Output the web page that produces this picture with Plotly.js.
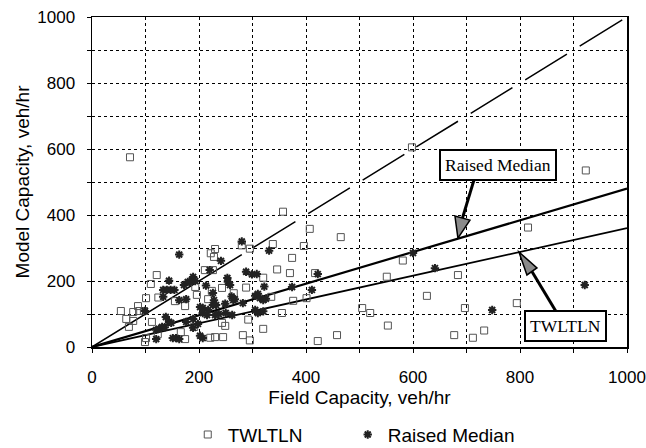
<!DOCTYPE html>
<html><head><meta charset="utf-8">
<script src="https://cdn.plot.ly/plotly-3.0.1.min.js"></script>
<style>html,body{margin:0;padding:0;background:#fff}</style>
</head><body><div id="chart" style="width:646px;height:448px"></div>
<script>
// TWLTLN observations (field capacity, model capacity)
const twltlnX = [71,598,923,815,357,407,465,396,338,280,295,230,222,228,374,346,370,417,320,211,226,288,243,224,265,335,376,551,505,520,355,292,243,249,320,553,282,458,221,230,245,295,422,581,684,626,697,794,677,712,733,401,121,110,124,155,174,101,86,54,77,88,97,64,77,112,123,101,99,174,166,193,196,217,191,69];
const twltlnY = [575,605,535,362,410,358,333,306,312,308,298,297,284,273,270,235,224,224,210,233,233,180,179,170,163,152,140,213,118,103,103,83,73,64,55,65,36,36,28,30,30,20,18,262,218,155,118,133,36,28,50,148,218,191,150,139,124,148,124,109,106,109,109,85,79,76,39,27,15,24,45,182,158,145,61,61];
// Raised Median observations
const raisedX = [163,280,331,241,422,288,299,308,253,254,258,322,374,411,213,226,261,267,282,264,305,310,314,320,325,202,226,249,230,237,250,262,305,310,320,202,207,133,140,147,154,144,172,179,187,189,193,183,133,163,176,99,138,144,148,120,125,131,136,120,151,157,163,189,176,207,217,228,232,220,600,641,921,748,189,198,207,215];
const raisedY = [280,320,292,261,221,228,220,221,209,198,188,183,182,173,186,164,153,145,133,142,155,161,148,142,146,121,127,131,97,100,103,97,112,103,108,34,27,173,173,173,173,201,188,197,203,212,200,197,152,142,145,109,91,76,73,52,55,61,60,24,27,27,24,85,76,118,112,142,127,233,285,239,188,112,58,70,103,97];
// Reference and fitted lines
const lineX = [0, 1000];
const equalityY = [0, 1000];
const raisedFitY = [0, 480];
const twltlnFitY = [0, 360];
// Axis ticks
const tickVals = [0, 200, 400, 600, 800, 1000];
const tickText = ['0', '200', '400', '600', '800', '1000'];
// Callout labels and the fitted-line points they point at
const calloutText = ['Raised Median', 'TWLTLN'];
const calloutBoxX = [759, 885];
const calloutBoxY = [553, 64];
const calloutTipX = [684, 798];
const calloutTipY = [330, 288];

const sans = 'Liberation Sans, Arial, sans-serif';
const serif = 'Liberation Serif, Times New Roman, serif';

const traces = [
  {x: lineX, y: equalityY, mode: 'lines', showlegend: false, hoverinfo: 'skip',
   line: {color: '#000', width: 1.5, dash: '176px,13px,50px,15px,49px,15px,49px,14px,49px,15px,49px,15px,49px,15px,50px,30px'}},
  {x: lineX, y: raisedFitY, mode: 'lines', showlegend: false, hoverinfo: 'skip',
   line: {color: '#000', width: 2.2}},
  {x: lineX, y: twltlnFitY, mode: 'lines', showlegend: false, hoverinfo: 'skip',
   line: {color: '#000', width: 1.8}},
  {x: twltlnX, y: twltlnY, mode: 'markers', name: 'TWLTLN', legend: 'legend',
   marker: {symbol: 'square-open', size: 7, color: '#555', line: {width: 1, color: '#555'}}},
  {x: raisedX, y: raisedY, mode: 'markers', name: 'Raised Median', legend: 'legend2',
   marker: {symbol: 'asterisk-open', size: 7, color: '#222', line: {width: 2, color: '#222'}}}
];

// arrow geometry in pixel offsets from the tip (y up)
const heads = [
  {path: 'M0,0 L12,18 L-3,22 Z', shaft: [4.5, 20, 16, 58]},
  {path: 'M0,0 L18,-16 L8,-23 Z', shaft: [13, -19.5, 38, -61]}
];
const shapes = [];
heads.forEach((h, i) => {
  shapes.push({type: 'line', xref: 'x', yref: 'y', xsizemode: 'pixel', ysizemode: 'pixel',
    xanchor: calloutTipX[i], yanchor: calloutTipY[i],
    x0: h.shaft[0], y0: h.shaft[1], x1: h.shaft[2], y1: h.shaft[3],
    line: {color: '#000', width: 3}});
  shapes.push({type: 'path', xref: 'x', yref: 'y', xsizemode: 'pixel', ysizemode: 'pixel',
    xanchor: calloutTipX[i], yanchor: calloutTipY[i], path: h.path,
    fillcolor: '#8a8a8a', line: {color: '#000', width: 1.5}});
});

const annotations = calloutText.map((t, i) => ({
  x: calloutBoxX[i], y: calloutBoxY[i], xref: 'x', yref: 'y', text: t, showarrow: false,
  font: {family: serif, size: 17.5, color: '#000'}, bgcolor: '#fff',
  bordercolor: '#000', borderwidth: 2, borderpad: 4
}));

const axisCommon = {
  range: [0, 1000], tickvals: tickVals, ticktext: tickText,
  showline: true, linecolor: '#000', linewidth: 1.5, mirror: true,
  showgrid: true, gridcolor: '#000', gridwidth: 1, griddash: 'dot',
  ticks: 'outside', ticklen: 4, tickcolor: '#000',
  minor: {dtick: 100, showgrid: true, gridcolor: '#000', gridwidth: 1, griddash: 'dot', ticks: 'outside', ticklen: 4, tickcolor: '#000'},
  zeroline: false, fixedrange: true, automargin: false,
  tickfont: {family: sans, size: 17, color: '#000'}
};

const legendCommon = {orientation: 'h', xanchor: 'left', y: -0.208, yanchor: 'top',
  font: {family: sans, size: 19, color: '#000'}, itemwidth: 30, bgcolor: 'rgba(0,0,0,0)'};

const layout = {
  width: 646, height: 448,
  margin: {l: 92, r: 19, t: 17, b: 101, autoexpand: false},
  paper_bgcolor: '#fff', plot_bgcolor: '#fff',
  xaxis: Object.assign({}, axisCommon, {
    title: {text: 'Field Capacity, veh/hr', font: {family: sans, size: 19, color: '#000'}, standoff: 4},
    ticklabelstandoff: 10
  }),
  yaxis: Object.assign({}, axisCommon, {
    title: {text: 'Model Capacity, veh/hr', font: {family: sans, size: 19, color: '#000'}, standoff: 2},
    ticklabelstandoff: 8
  }),
  showlegend: true,
  legend: Object.assign({}, legendCommon, {x: 0.179}),
  legend2: Object.assign({}, legendCommon, {x: 0.478}),
  shapes: shapes,
  annotations: annotations
};

Plotly.newPlot('chart', traces, layout, {displayModeBar: false, staticPlot: true});
</script>
</body></html>
